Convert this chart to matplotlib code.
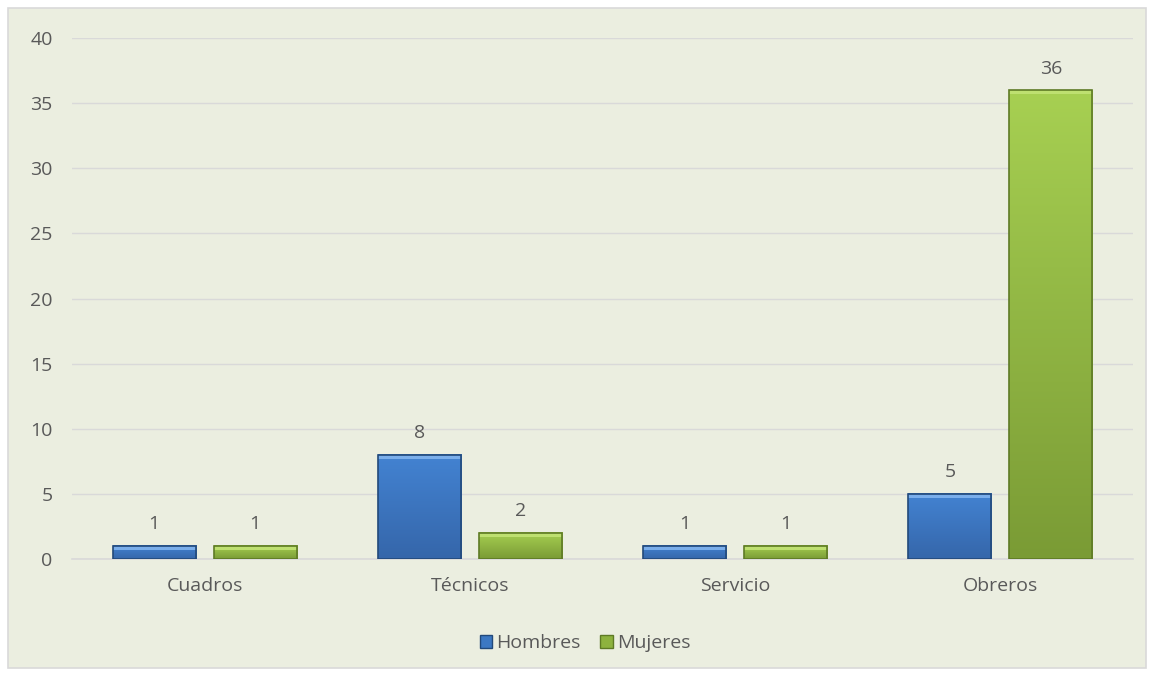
import matplotlib
matplotlib.use("Agg")
from matplotlib import pyplot as plt
from matplotlib.patches import Rectangle, Patch
from matplotlib.colors import LinearSegmentedColormap
import numpy as np

categorias = ["Cuadros", "Técnicos", "Servicio", "Obreros"]
hombres = [1, 8, 1, 5]
mujeres = [1, 2, 1, 36]
y_ticks = [0, 5, 10, 15, 20, 25, 30, 35, 40]

bg = "#EBEEE0"
txt = "#595959"
fs = 14
plt.rcParams["font.family"] = ["Open Sans", "DejaVu Sans"]

fig = plt.figure(figsize=(11.54, 6.77), dpi=100, facecolor="white")
# chart area with thin border
fig.patches.append(Rectangle((8 / 1154, 9 / 677), 1138 / 1154, 660 / 677,
                             transform=fig.transFigure, facecolor=bg,
                             edgecolor="#D9D9D9", linewidth=1.2, zorder=-5))

ax = fig.add_axes([72 / 1154, 1 - 559 / 677, 1061 / 1154, 521 / 677])
ax.set_zorder(1)
ax.set_facecolor("none")

x = np.arange(len(categorias))
w = 0.313
b1 = ax.bar(x - 0.19, hombres, w, facecolor="none", edgecolor="#22497A", linewidth=1.2, zorder=4)
b2 = ax.bar(x + 0.19, mujeres, w, facecolor="none", edgecolor="#5E7A25", linewidth=1.2, zorder=4)

# vertical gradient fill for every bar
cm_h = LinearSegmentedColormap.from_list("h", ["#3566AA", "#4383D2"])
cm_m = LinearSegmentedColormap.from_list("m", ["#7A9B35", "#A7D052"])
grad = np.linspace(0, 1, 256).reshape(-1, 1)
for bars, cm, top in [(b1, cm_h, "#7AAEEB"), (b2, cm_m, "#BEE070")]:
    for r in bars:
        x0, h, bw = r.get_x(), r.get_height(), r.get_width()
        ax.imshow(grad, extent=(x0, x0 + bw, 0, h), origin="lower", cmap=cm,
                  aspect="auto", zorder=3, interpolation="bilinear")
        t = min(0.3, h * 0.3)
        ax.add_patch(Rectangle((x0, h - t), bw, t, facecolor=top, edgecolor="none", zorder=3.5))

for bars, vals in [(b1, hombres), (b2, mujeres)]:
    for r, v in zip(bars, vals):
        ax.annotate(str(v), (r.get_x() + r.get_width() / 2, v), xytext=(0, 9),
                    textcoords="offset points", ha="center", va="bottom",
                    fontsize=fs, color=txt)

ax.set_xlim(-0.5, 3.5)
ax.set_ylim(0, 40)
ax.set_yticks(y_ticks)
ax.set_xticks(x)
ax.set_xticklabels(categorias)
ax.tick_params(length=0, labelsize=fs, labelcolor=txt)
ax.tick_params(axis="y", pad=14)
ax.tick_params(axis="x", pad=13)
ax.grid(axis="y", color="#D9D9D9", linewidth=1, zorder=0)
for s in ["top", "right", "left"]:
    ax.spines[s].set_visible(False)
ax.spines["bottom"].set_color("#D9D9D9")
ax.spines["bottom"].set_linewidth(1.2)

handles = [Patch(facecolor="#3C78C3", edgecolor="#22497A"),
           Patch(facecolor="#8DB23E", edgecolor="#5E7A25")]
fig.legend(handles, ["Hombres", "Mujeres"], loc="center", bbox_to_anchor=(585 / 1154, 1 - 643 / 677),
           ncol=2, frameon=False, fontsize=fs, labelcolor=txt, handlelength=0.65,
           handleheight=0.65, handletextpad=0.2, columnspacing=1.0)

fig.savefig("out.png", dpi=100)
